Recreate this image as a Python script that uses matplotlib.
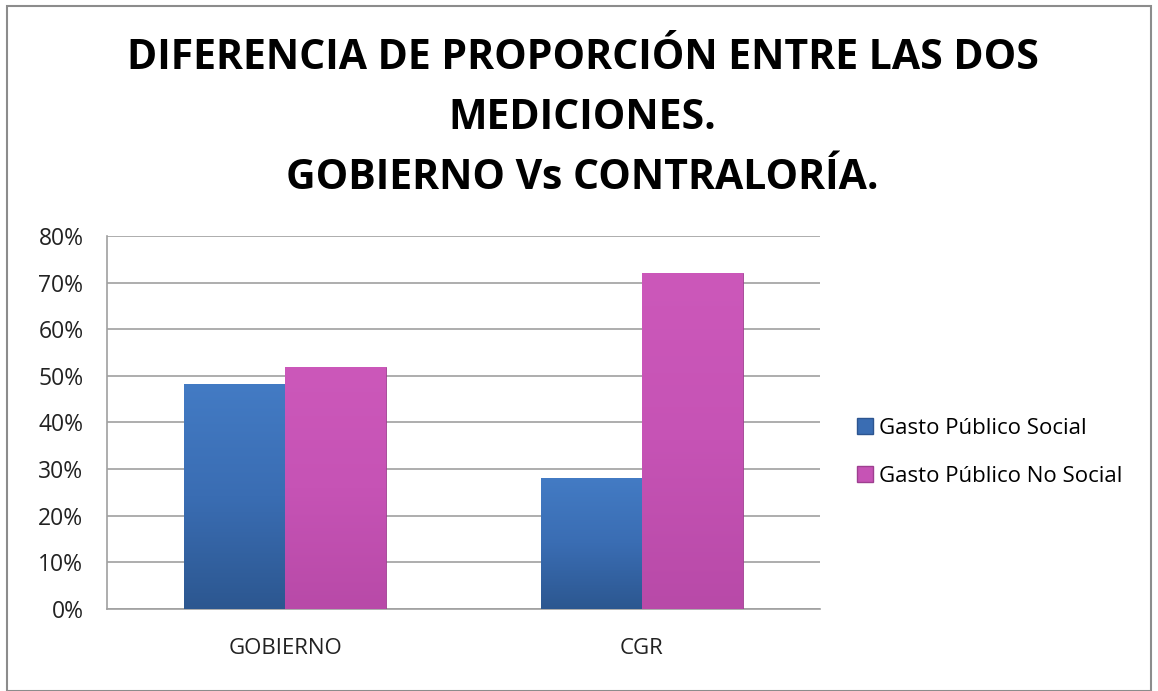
import matplotlib
matplotlib.use("Agg")
import matplotlib.pyplot as plt
from matplotlib.patches import Rectangle
from matplotlib.lines import Line2D
from matplotlib.colors import LinearSegmentedColormap
import numpy as np

categories = ["GOBIERNO", "CGR"]
series_names = ["Gasto Público Social", "Gasto Público No Social"]
social = [48.2, 28.0]
no_social = [51.8, 72.1]
yticks = [0, 10, 20, 30, 40, 50, 60, 70, 80]
title = "DIFERENCIA DE PROPORCIÓN ENTRE LAS DOS\nMEDICIONES.\nGOBIERNO Vs CONTRALORÍA."

blue = "#3A6DB3"
pink = "#C653B5"
blue_cmap = LinearSegmentedColormap.from_list("b", ["#2C5790", "#3A6DB3", "#437BC4"])
pink_cmap = LinearSegmentedColormap.from_list("p", ["#B84AA8", "#C653B5", "#CC58BA"])

plt.rcParams['font.family'] = ['Open Sans', 'DejaVu Sans']

fig = plt.figure(figsize=(11.58, 6.91), dpi=100)
fig.patch.set_facecolor("white")
fig.add_artist(Rectangle((0.006, 0.0), 0.988, 0.992, transform=fig.transFigure,
                         fill=False, edgecolor="#8C8C8C", linewidth=1.5))

ax = fig.add_axes([0.0924, 0.1187, 0.6158, 0.5398])
x = np.arange(len(categories))
w = 0.283
b1 = ax.bar(x - w/2, social, w, color=blue, edgecolor="#2D5590", linewidth=0.6, zorder=3)
b2 = ax.bar(x + w/2, no_social, w, color=pink, edgecolor="#9E3F90", linewidth=0.6, zorder=3)

grad = np.linspace(0, 1, 256).reshape(-1, 1)
for bars, cmap in ((b1, blue_cmap), (b2, pink_cmap)):
    for bar in bars:
        x0, y0 = bar.get_x(), bar.get_y()
        bw, bh = bar.get_width(), bar.get_height()
        im = ax.imshow(grad, cmap=cmap, aspect="auto", origin="lower",
                       extent=(x0, x0 + bw, y0, y0 + bh), zorder=3.5)
        im.set_clip_path(bar)

ax.set_ylim(0, 80)
ax.set_xlim(-0.5, 1.5)
ax.set_yticks(yticks)
ax.set_yticklabels([f"{v}%" for v in yticks], fontsize=16.5, color="#222222")
ax.set_xticks(x)
ax.set_xticklabels(categories, fontsize=16, color="#222222")
ax.tick_params(axis='y', length=0, pad=17)
ax.tick_params(axis='x', length=0, pad=21)
ax.grid(axis='y', color="#A0A0A0", linewidth=1.2, zorder=0)
for s in ["top", "right"]:
    ax.spines[s].set_visible(False)
ax.spines["left"].set_color("#A0A0A0")
ax.spines["bottom"].set_color("#A0A0A0")
ax.spines["left"].set_linewidth(1.2)
ax.spines["bottom"].set_linewidth(1.2)

fig.text(0.503, 0.945, title, ha="center", va="top", fontsize=29.5, fontweight="bold",
         linespacing=1.62, color="black")

handles = [Line2D([], [], marker="s", linestyle="none", markersize=11, markerfacecolor=blue,
                  markeredgecolor="#2D5590"),
           Line2D([], [], marker="s", linestyle="none", markersize=11, markerfacecolor=pink,
                  markeredgecolor="#9E3F90")]
fig.legend(handles, series_names, loc="center left", bbox_to_anchor=(0.722, 0.345),
           frameon=False, fontsize=16, handlelength=0.8, handletextpad=0.25, labelspacing=1.2)

fig.savefig("out.png", dpi=100)
